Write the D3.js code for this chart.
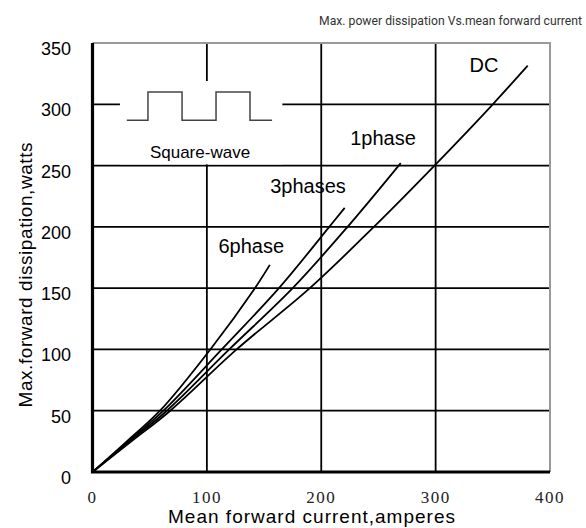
<html>
<head>
<script src="https://d3js.org/d3.v7.min.js"></script>
<style>
body { margin: 0; background: #fff; }
text { font-family: "Liberation Sans", Arial, sans-serif; }
</style>
</head>
<body>
<svg width="586" height="528"></svg>
<script>
// readings
var xTicks = [0, 100, 200, 300, 400];
var yTicks = [0, 50, 100, 150, 200, 250, 300, 350];

var seriesNames = ["6phase", "3phases", "1phase", "DC"];
var current6 = [0, 30, 59, 103, 142, 155];
var power6   = [0, 25, 50, 100, 150, 169];
var current3 = [0, 31.5, 62, 113, 163, 207, 220.5];
var power3   = [0, 25, 50, 100, 150, 200, 215.5];
var current1 = [0, 32.5, 65, 119.5, 175, 223, 269.5];
var power1   = [0, 25, 50, 100, 150, 200, 252];
var currentDC = [0, 34, 68, 126, 190, 246, 299, 350, 380.5];
var powerDC   = [0, 25, 50, 100, 150, 200, 250, 300, 331.5];

// the square-wave sketch in the corner, in chart units
var waveCurrent = [30, 48.5, 48.5, 78.3, 78.3, 108, 108, 137.7, 137.7, 157];
var waveLevel   = [287, 287, 310, 310, 287, 287, 310, 310, 287, 287];

var svg = d3.select("svg");
var x = d3.scaleLinear().domain([0, 400]).range([92.5, 550]);
var y = d3.scaleLinear().domain([0, 350]).range([472, 43]);

svg.append("text").text("Max. power dissipation Vs.mean forward current")
    .attr("x", 582).attr("y", 25)
    .attr("text-anchor", "end")
    .style("font-family", "Roboto, 'Noto Sans', sans-serif")
    .style("font-size", "12.2px")
    .style("fill", "#333");

// grid
var grid = svg.append("g");
grid.selectAll("line.h").data(yTicks.filter(function(d) { return d > 0 && d < 350; }))
    .enter().append("line")
    .attr("x1", x(0)).attr("x2", x(400))
    .attr("y1", function(d) { return y(d); }).attr("y2", function(d) { return y(d); })
    .attr("stroke", "#000").attr("stroke-width", 1.8);
grid.selectAll("line.v").data(xTicks.filter(function(d) { return d > 0 && d < 400; }))
    .enter().append("line")
    .attr("y1", y(0)).attr("y2", y(350))
    .attr("x1", function(d) { return x(d); }).attr("x2", function(d) { return x(d); })
    .attr("stroke", "#000").attr("stroke-width", 1.8);

// gray top / right border
svg.append("path")
    .attr("d", "M" + x(0) + "," + y(350) + "H" + x(400) + "V" + y(0))
    .attr("fill", "none").attr("stroke", "#999").attr("stroke-width", 2);

// blank box behind the square-wave sketch
svg.append("rect")
    .attr("x", x(24)).attr("y", y(319))
    .attr("width", x(166) - x(24)).attr("height", y(251) - y(319))
    .attr("fill", "#fff");

var wave = waveCurrent.map(function(c, i) { return [c, waveLevel[i]]; });
svg.append("path")
    .attr("d", d3.line().x(function(d) { return x(d[0]); }).y(function(d) { return y(d[1]); })(wave))
    .attr("fill", "none").attr("stroke", "#444").attr("stroke-width", 1.5);

svg.append("text").text("Square-wave")
    .attr("x", x(94)).attr("y", y(256))
    .attr("text-anchor", "middle")
    .style("font-size", "17px");

// axes (thick left and bottom)
svg.append("path")
    .attr("d", "M" + x(0) + "," + y(350) + "V" + y(0) + "H" + x(400))
    .attr("fill", "none").attr("stroke", "#000").attr("stroke-width", 3.2);

svg.selectAll("text.ytick").data(yTicks).enter().append("text")
    .attr("class", "ytick")
    .text(function(d) { return d; })
    .attr("x", 71).attr("y", function(d) { return y(d) + 12; })
    .attr("text-anchor", "end")
    .style("font-size", "18px");

svg.selectAll("text.xtick").data(xTicks).enter().append("text")
    .attr("class", "xtick")
    .text(function(d) { return d; })
    .attr("x", function(d) { return x(d); }).attr("y", 503)
    .attr("text-anchor", "middle")
    .style("font-family", "'Liberation Serif', 'Times New Roman', serif")
    .style("font-size", "17px")
    .style("letter-spacing", "1.5px")
    .style("fill", "#222");

svg.append("text").text("Mean forward current,amperes")
    .attr("x", 311.5).attr("y", 523)
    .attr("text-anchor", "middle")
    .attr("textLength", 287)
    .style("font-size", "19px");

svg.append("text").text("Max.forward dissipation,watts")
    .attr("transform", "translate(32,275) rotate(-90)")
    .attr("text-anchor", "middle")
    .attr("textLength", 265)
    .style("font-size", "19px");

// curves
var curveData = [
    [current6, power6],
    [current3, power3],
    [current1, power1],
    [currentDC, powerDC]
];
var line = d3.line()
    .x(function(d) { return x(d[0]); })
    .y(function(d) { return y(d[1]); })
    .curve(d3.curveCatmullRom.alpha(0.5));

for (var i = 0; i < curveData.length; i++) {
    var pts = curveData[i][0].map(function(c, j) { return [c, curveData[i][1][j]]; });
    svg.append("path")
        .attr("d", line(pts))
        .attr("fill", "none")
        .attr("stroke", "#000")
        .attr("stroke-width", 1.8);
}

// curve labels, anchored in chart units
var labelCurrent = [138.8, 188.4, 254, 342.3];
var labelPower = [178.7, 227.6, 266.8, 326.3];
for (var k = 0; k < seriesNames.length; k++) {
    svg.append("text").text(seriesNames[k])
        .attr("x", x(labelCurrent[k])).attr("y", y(labelPower[k]))
        .attr("text-anchor", "middle")
        .style("font-size", "20px");
}
</script>
</body>
</html>
